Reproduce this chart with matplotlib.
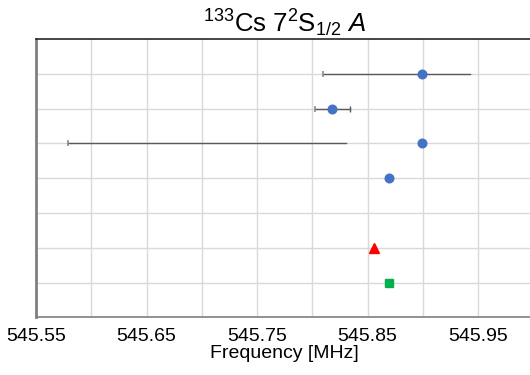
import matplotlib
matplotlib.use("Agg")
import matplotlib.pyplot as plt
import numpy as np

plt.rcParams['font.family'] = ['Liberation Sans', 'DejaVu Sans']
plt.rcParams['mathtext.fontset'] = 'custom'
plt.rcParams['mathtext.rm'] = 'Liberation Sans'
plt.rcParams['mathtext.it'] = 'Liberation Sans:italic'

# Measured hyperfine constants (rows from top to bottom)
rows = [1, 2, 3, 4]
values = [545.899, 545.8175, 545.899, 545.869]
err_low = [545.810, 545.802, 545.579, None]
err_high = [545.9425, 545.834, 545.8308, None]
cap_low = [True, True, True, False]
cap_high = [False, True, False, False]

# Theory / reference values
theory_row = 6
theory_value = 545.856
ref_row = 7
ref_value = 545.869

xticks = [545.55, 545.65, 545.75, 545.85, 545.95]
xlabels = ["545.55", "545.65", "545.75", "545.85", "545.95"]

fig = plt.figure(figsize=(5.30, 3.75), dpi=100)
ax = fig.add_axes([36 / 530, 57.7 / 375, (533.5 - 36) / 530, (317.3 - 39) / 375])

ax.set_xlim(545.55, 546.0)
ax.set_ylim(8, 0)

# grid every 0.05 MHz and every row
ax.set_xticks(xticks)
ax.set_xticklabels(xlabels)
ax.set_xticks(np.arange(545.60, 546.0001, 0.10), minor=True)
ax.set_yticks(np.arange(1, 8), minor=True)
ax.set_yticks([])
ax.grid(which='both', color='#d9d9d9', linewidth=1.0)
ax.set_axisbelow(True)

ax.tick_params(axis='x', which='both', length=0, labelsize=14, pad=8, colors='black')
ax.tick_params(axis='y', which='both', length=0)

# error bars
for r, lo, hi, cl, ch in zip(rows, err_low, err_high, cap_low, cap_high):
    if lo is None:
        continue
    ax.plot([lo, hi], [r, r], color='#595959', linewidth=1.0, zorder=2)
    if cl:
        ax.plot([lo], [r], marker='|', markersize=4, color='#8c8c8c', mew=1.2, zorder=2)
    if ch:
        ax.plot([hi], [r], marker='|', markersize=4, color='#595959', mew=1.0, zorder=2)

ax.plot(values, rows, linestyle='none', marker='o', markersize=6.2,
        color='#4472c4', zorder=3)
ax.plot([theory_value], [theory_row], linestyle='none', marker='^', markersize=7.5,
        color='#ff0000', zorder=3)
ax.plot([ref_value], [ref_row], linestyle='none', marker='s', markersize=6.2,
        color='#00b050', zorder=3)

for side in ['left', 'bottom']:
    ax.spines[side].set_color('#7f7f7f')
ax.spines['left'].set_linewidth(2.0)
ax.spines['bottom'].set_linewidth(1.2)
ax.spines['top'].set_color('#262626')
ax.spines['top'].set_linewidth(1.2)
ax.spines['right'].set_color('#262626')

ax.set_xlabel('Frequency [MHz]', fontsize=14, labelpad=0)
ax.set_title(r'$^{133}$Cs 7$^{2}$S$_{1/2}$ $A$', fontsize=18.5, pad=5)

fig.savefig('out.png', dpi=100)
